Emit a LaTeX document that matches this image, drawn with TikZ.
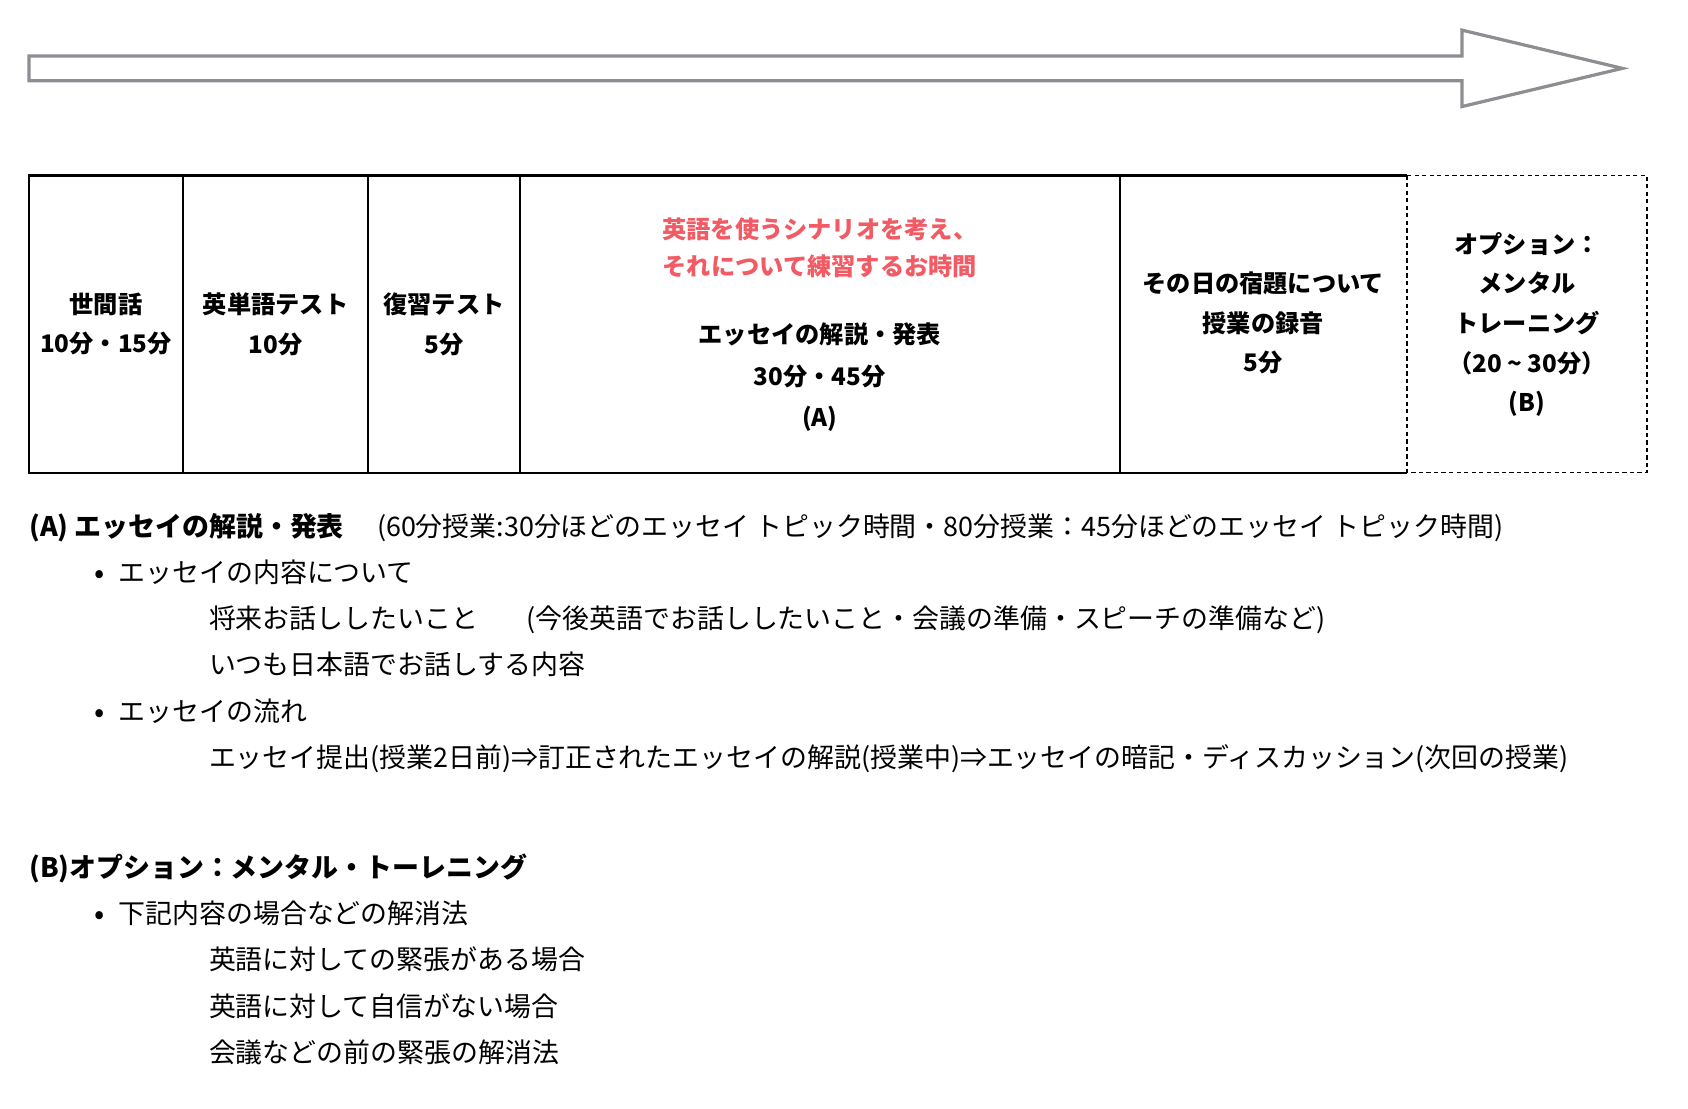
\documentclass[tikz,border=0pt]{standalone}
\usepackage{fontspec}
\setmainfont{Noto Sans CJK JP}
\definecolor{arrowgray}{RGB}{140,142,146}
\definecolor{salmon}{RGB}{242,90,100}
\begin{document}
\begin{tikzpicture}[x=1pt,y=-1pt,
  cell/.style={align=center,font=\bfseries\fontsize{22.5}{37}\selectfont,inner sep=0pt},
  body/.style={anchor=base west,inner sep=0pt,font=\fontsize{25}{30}\selectfont},
  bodyb/.style={body,font=\bfseries\fontsize{25}{30}\selectfont},
  bul/.style={anchor=center,inner sep=0pt,font=\fontsize{28}{30}\selectfont}]
\useasboundingbox (0,0) rectangle (1568,1029.3);
% timeline arrow
\draw[arrowgray,line width=3pt,line join=miter]
  (27,52) -- (1358,52) -- (1358,28) -- (1507,63.5) -- (1358,99) -- (1358,75) -- (27,75) -- cycle;
% table
\draw[line width=2pt] (1307,163) -- (27,163) -- (27,439) -- (1307,439);
\foreach \xx in {170,342,483,1040} \draw[line width=2pt] (\xx,163) -- (\xx,439);
\draw[line width=1.5pt,dash pattern=on 4pt off 3pt] (1307,163) rectangle (1530,439);
% cell texts
\node[cell] (c1) at (98.5,301) {世間話\\10分・15分};
\node[cell] (c2) at (256,301) {英単語テスト\\10分};
\node[cell] (c3) at (412.5,301) {復習テスト\\5分};
\node[cell,text=salmon,font=\bfseries\fontsize{22.5}{34}\selectfont] (c4r) at (761.5,230) {英語を使うシナリオを考え、\\それについて練習するお時間};
\node[cell,font=\bfseries\fontsize{22.5}{38.5}\selectfont] (c4) at (761.5,350.5) {エッセイの解説・発表\\30分・45分\\(A)};
\node[cell] (c5) at (1173.5,300) {その日の宿題について\\授業の録音\\5分};
\node[cell,font=\bfseries\fontsize{22.5}{36.8}\selectfont] (c6) at (1418.5,301.5) {オプション：\\メンタル\\トレーニング\\（20 \textasciitilde{} 30分）\\(B)};
% section A
\node[bodyb] (ha) at (27,498) {(A) エッセイの解説・発表};
\node[body] (hat) at (350,498) {(60分授業:30分ほどのエッセイ トピック時間・80分授業：45分ほどのエッセイ トピック時間)};
\node[bul] (b1) at (93,536) {•};
\node[body] (a1) at (110,541) {エッセイの内容について};
\node[body] (a2) at (194,584) {将来お話ししたいこと};
\node[body] (a2b) at (489,584) {(今後英語でお話ししたいこと・会議の準備・スピーチの準備など)};
\node[body] (a3) at (194,627) {いつも日本語でお話しする内容};
\node[bul] (b2) at (93,665) {•};
\node[body] (a4) at (110,670) {エッセイの流れ};
\node[body] (a5) at (194,713) {エッセイ提出(授業2日前)⇒訂正されたエッセイの解説(授業中)⇒エッセイの暗記・ディスカッション(次回の授業)};
% section B
\node[bodyb] (hb) at (27,815) {(B)オプション：メンタル・トーレニング};
\node[bul] (b3) at (93,853) {•};
\node[body] (bb1) at (110,858) {下記内容の場合などの解消法};
\node[body] (bb2) at (194,901) {英語に対しての緊張がある場合};
\node[body] (bb3) at (194,944) {英語に対して自信がない場合};
\node[body] (bb4) at (194,987) {会議などの前の緊張の解消法};
\end{tikzpicture}
\end{document}
